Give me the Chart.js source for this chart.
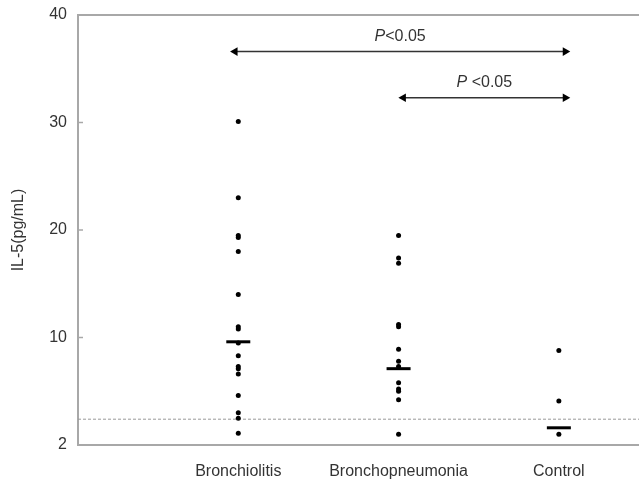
<!DOCTYPE html>
<html>
<head>
<meta charset="utf-8">
<script src="https://cdn.jsdelivr.net/npm/chart.js@4.4.1/dist/chart.umd.min.js"></script>
<style>
  body { margin: 0; background: #fff; }
  #wrap { width: 639px; height: 484px; }
</style>
</head>
<body>
<div id="wrap"><canvas id="il5Chart"></canvas></div>
<script>
// groups on the x axis
const groups = ["Bronchiolitis", "Bronchopneumonia", "Control"];

// IL-5 values (pg/mL)
const bronchiolitis = [30.1, 23.0, 19.5, 19.3, 18.0, 14.0, 11.0, 10.8, 9.5, 8.3, 7.3, 7.1, 6.6, 4.6, 3.0, 2.5, 1.1];
const bronchopneumonia = [19.5, 17.4, 16.9, 11.2, 11.0, 8.9, 7.8, 7.3, 5.8, 5.2, 5.0, 4.2, 1.0];
const control = [8.8, 4.1, 1.0];
const medians = [9.6, 7.1, 1.6];
const cutoff = 2.4;

// y ticks (bottom one is labelled "2" in the original)
const yTicks = [0, 10, 20, 30, 40];
const yTickLabels = ["2", "10", "20", "30", "40"];

// significance brackets
const pLabels = ["P<0.05", "P <0.05"];
const arrowFrom = [0.98, 2.03];
const arrowTo = [3.04, 3.04];
const arrowY = [36.6, 32.3];

const axisGray = "#a8a8a8";
const textGray = "#333";
const fontFamily = "'Liberation Sans', Arial, sans-serif";
const font = { family: fontFamily, size: 16 };

function groupPoints(values, idx) {
    return values.map(v => ({ x: idx + 1, y: v }));
}

const datasets = [
    { type: "scatter", data: groupPoints(bronchiolitis, 0) },
    { type: "scatter", data: groupPoints(bronchopneumonia, 1) },
    { type: "scatter", data: groupPoints(control, 2) }
].map(d => Object.assign(d, {
    pointRadius: 2.5, pointBackgroundColor: "#000", pointBorderWidth: 0
}));

// median bars
datasets.push({
    type: "scatter",
    data: medians.map((m, i) => ({ x: i + 1, y: m })),
    pointStyle: "line",
    pointRadius: 12,
    pointBorderWidth: 3,
    pointBorderColor: "#000"
});

// dashed cutoff line
datasets.push({
    type: "line",
    data: [{ x: 0, y: cutoff }, { x: 3.5, y: cutoff }],
    borderColor: "#999",
    borderWidth: 1,
    borderDash: [3, 2],
    pointRadius: 0
});

// arrows
pLabels.forEach((lbl, i) => {
    datasets.push({
        type: "line",
        data: [{ x: arrowFrom[i], y: arrowY[i] }, { x: arrowTo[i], y: arrowY[i] }],
        borderColor: "#333",
        borderWidth: 1.5,
        pointStyle: "triangle",
        pointRadius: 5,
        pointRotation: [-90, 90],
        pointBackgroundColor: "#000",
        pointBorderWidth: 0
    });
});

const extras = {
    id: "extras",
    afterDraw(chart) {
        const { ctx, chartArea, scales } = chart;
        const x = scales.x, y = scales.y;
        ctx.save();
        // top frame line
        ctx.strokeStyle = axisGray;
        ctx.lineWidth = 2;
        ctx.beginPath();
        ctx.moveTo(chartArea.left - 1, chartArea.top);
        ctx.lineTo(chartArea.right, chartArea.top);
        ctx.stroke();
        // inner tick marks
        ctx.lineWidth = 1.5;
        yTicks.slice(0, -1).forEach(v => {
            const py = y.getPixelForValue(v);
            ctx.beginPath();
            ctx.moveTo(chartArea.left, py);
            ctx.lineTo(chartArea.left + 5, py);
            ctx.stroke();
        });
        // P labels above arrows
        ctx.fillStyle = textGray;
        ctx.textBaseline = "middle";
        ctx.textAlign = "left";
        pLabels.forEach((lbl, i) => {
            const cx = (x.getPixelForValue(arrowFrom[i]) + x.getPixelForValue(arrowTo[i])) / 2;
            const cy = y.getPixelForValue(arrowY[i]) - 15;
            const rest = lbl.slice(1);
            ctx.font = "italic 16px " + fontFamily;
            const wP = ctx.measureText("P").width;
            ctx.font = "16px " + fontFamily;
            const wR = ctx.measureText(rest).width;
            const start = cx - (wP + wR) / 2;
            ctx.font = "italic 16px " + fontFamily;
            ctx.fillText("P", start, cy);
            ctx.font = "16px " + fontFamily;
            ctx.fillText(rest, start + wP, cy);
        });
        ctx.restore();
    }
};

new Chart(document.getElementById("il5Chart"), {
    type: "scatter",
    data: { datasets },
    options: {
        responsive: true,
        maintainAspectRatio: false,
        animation: false,
        layout: { autoPadding: false, padding: { top: 15, right: 0, bottom: 0, left: 0 } },
        plugins: { legend: { display: false }, tooltip: { enabled: false } },
        scales: {
            x: {
                type: "linear",
                min: 0,
                max: 3.5,
                grid: { display: false, drawTicks: false },
                border: { color: axisGray, width: 2 },
                afterBuildTicks: s => { s.ticks = groups.map((g, i) => ({ value: i + 1 })); },
                afterFit: s => { s.height = 39; s.paddingLeft = 0; s.paddingRight = 0; },
                ticks: {
                    callback: v => groups[v - 1],
                    padding: 17,
                    color: textGray,
                    font,
                    maxRotation: 0
                }
            },
            y: {
                min: 0,
                max: 40,
                grid: { display: false, drawTicks: false },
                border: { color: axisGray, width: 2 },
                afterBuildTicks: s => { s.ticks = yTicks.map(v => ({ value: v })); },
                afterFit: s => { s.width = 78; s.paddingTop = 0; s.paddingBottom = 0; },
                ticks: {
                    callback: (v, i) => yTickLabels[i],
                    padding: 11,
                    color: textGray,
                    font
                },
                title: {
                    display: true,
                    text: "IL-5(pg/mL)",
                    color: textGray,
                    font,
                    padding: { top: 9, bottom: 0 }
                }
            }
        }
    },
    plugins: [extras]
});
</script>
</body>
</html>
